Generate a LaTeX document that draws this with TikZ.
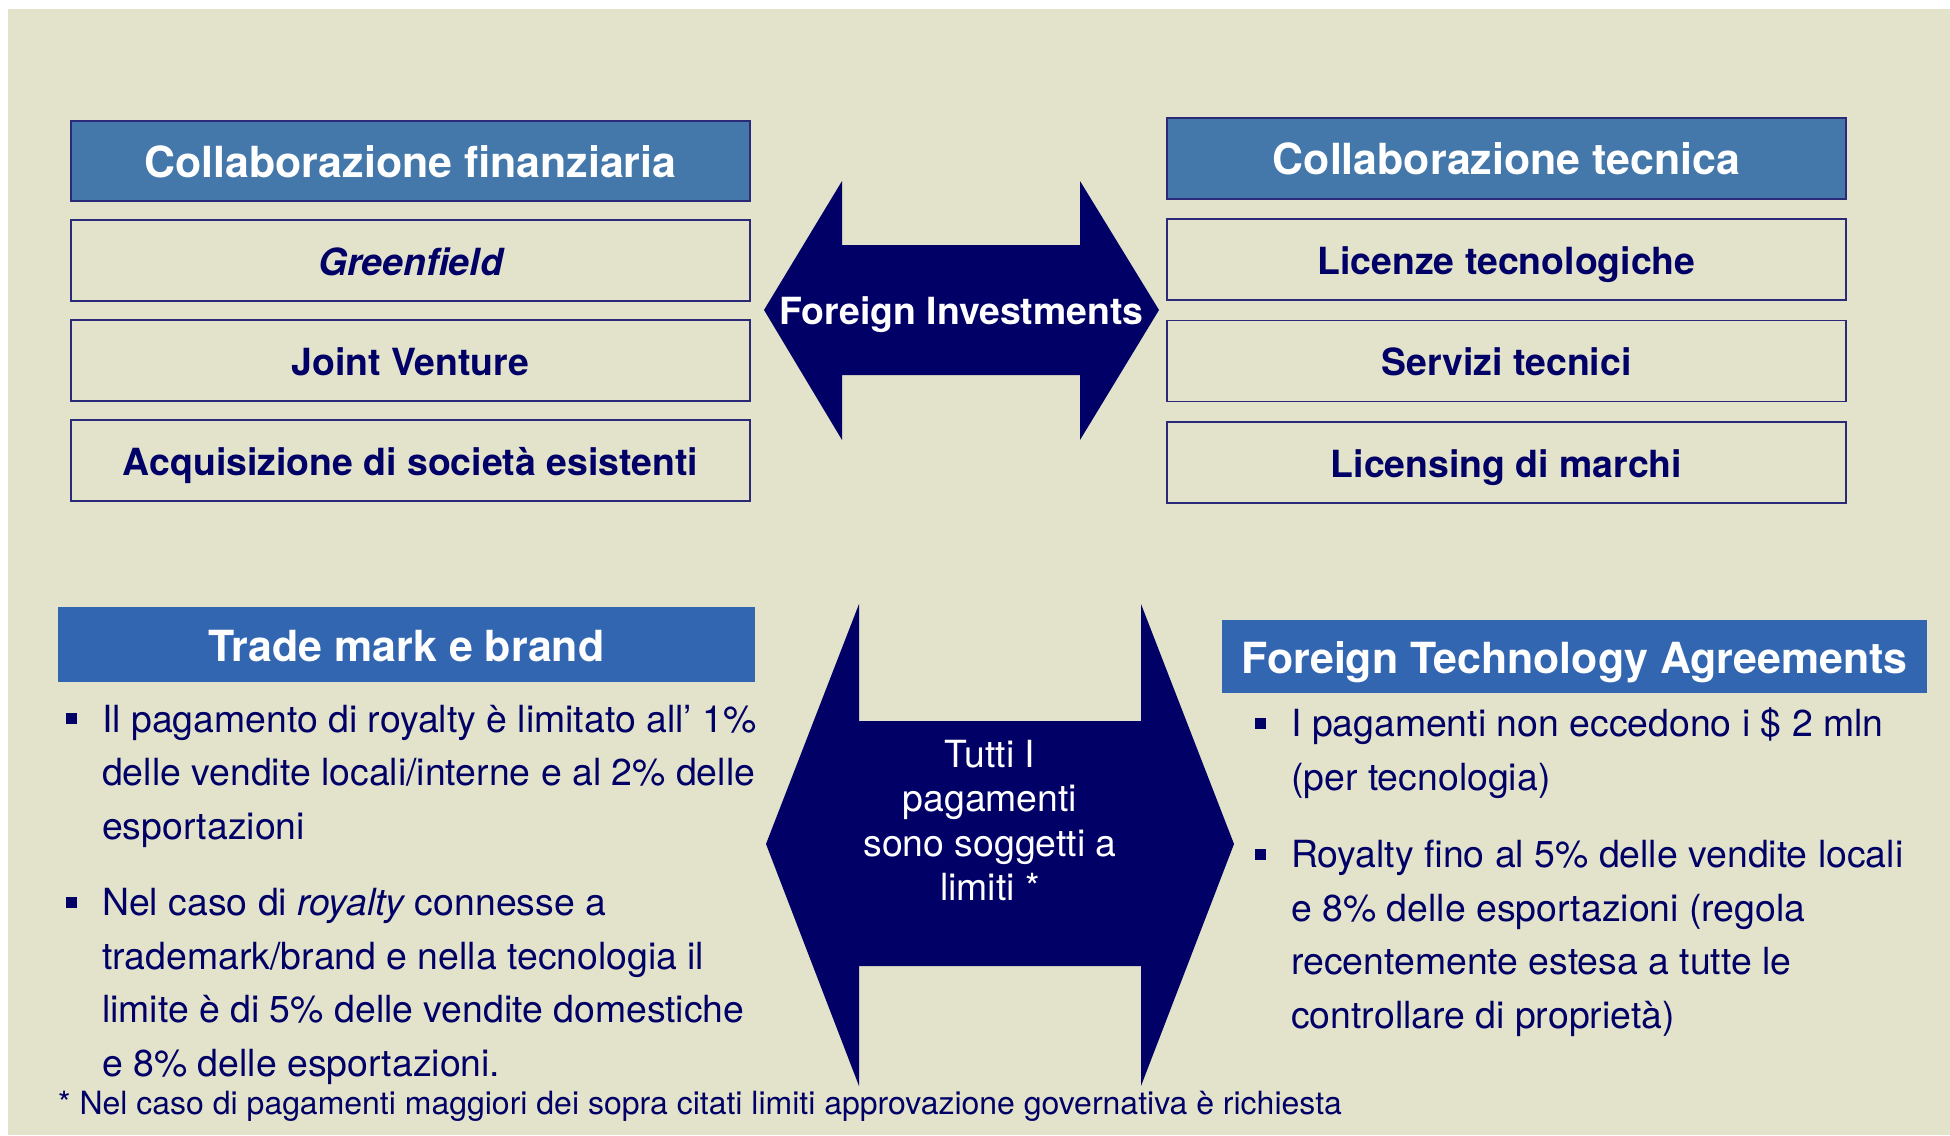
\documentclass[tikz,border=0pt]{standalone}
\usepackage{fontspec}
\setmainfont{TeX Gyre Heros}
\definecolor{bgcol}{HTML}{E3E3CB}
\definecolor{navy}{HTML}{000066}
\definecolor{hdrA}{HTML}{4477AA}
\definecolor{hdrB}{HTML}{3366B1}
\definecolor{boxline}{HTML}{2A2A78}
\newcommand\hdrfont{\fontsize{42.9pt}{50pt}\selectfont\bfseries}
\newcommand\boxfont{\fontsize{37.4pt}{44pt}\selectfont\bfseries}
\newcommand\bodyfont{\fontsize{37.4pt}{44pt}\selectfont}
\newcommand\notefont{\fontsize{32pt}{38pt}\selectfont}
\begin{document}
\begin{tikzpicture}[x=1pt,y=-1pt,
  hdrtop/.style={draw=boxline, line width=1.6pt, fill=hdrA, text=white, font=\hdrfont,
    inner sep=0pt, text height=32.5pt, text depth=0pt, minimum width=679pt},
  hdrbot/.style={fill=hdrB, text=white, font=\hdrfont,
    inner sep=0pt, text height=34pt, text depth=0pt},
  itembox/.style={draw=boxline, line width=1.6pt, text=navy, font=\boxfont,
    inner sep=0pt, text height=29pt, text depth=0pt, minimum width=679pt, minimum height=81pt},
  arrowfill/.style={fill=navy},
  bodytext/.style={text=navy, font=\bodyfont, inner sep=0pt},
  bulletsq/.style={fill=navy, inner sep=0pt, minimum size=11pt},
  notetext/.style={text=navy, font=\notefont, inner sep=0pt}
]
\useasboundingbox (0,0) rectangle (1950,1135);
\fill[white] (0,0) rectangle (1950,1135);
\fill[bgcol] (8,9) rectangle (1950,1135);

% top-left column
\node[hdrtop, minimum height=80pt] (cf) at (410.5,161) {Collaborazione finanziaria};
\node[itembox] (gf) at (410.5,260.5) {\itshape Greenfield};
\node[itembox] (jv) at (410.5,360.5) {Joint Venture};
\node[itembox] (acq) at (410.5,460.5) {Acquisizione di società esistenti};

% top-right column
\node[hdrtop, minimum height=81pt] (ct) at (1506.5,158.5) {Collaborazione tecnica};
\node[itembox] (lt) at (1506.5,259.5) {Licenze tecnologiche};
\node[itembox] (st) at (1506.5,361) {Servizi tecnici};
\node[itembox] (lm) at (1506.5,462.5) {Licensing di marchi};

% top double arrow
\fill[arrowfill] (764,310) -- (842,181) -- (842,245) -- (1080,245) -- (1080,181)
  -- (1159,310) -- (1080,440) -- (1080,375) -- (842,375) -- (842,440) -- cycle;
\node[text=white, font=\boxfont, inner sep=0pt, text height=29pt, text depth=0pt] (fi) at (961.5,310) {Foreign Investments};

% bottom double arrow
\fill[arrowfill] (766,844) -- (859,604) -- (859,721) -- (1141,721) -- (1141,604)
  -- (1234,844) -- (1141,1086) -- (1141,966) -- (859,966) -- (859,1086) -- cycle;
\node[text=white, font=\bodyfont, inner sep=0pt, anchor=base] (tp) at (990,767)
  {\vtop{\baselineskip=44.5pt\halign{\hfil#\hfil\cr Tutti I\cr pagamenti\cr sono soggetti a\cr limiti *\cr}}};

% bottom-left
\node[hdrbot, minimum width=697pt, minimum height=75pt] (tm) at (406.5,644.5) {Trade mark e brand};
\node[bulletsq] (bl1) at (71,718.5) {};
\node[bodytext, anchor=base west] (tl1) at (102,732)
  {\vtop{\baselineskip=53.7pt\hbox{Il pagamento di royalty è limitato all’ 1\%}\hbox{delle vendite locali/interne e al 2\% delle}\hbox{esportazioni}}};
\node[bulletsq] (bl2) at (71,902) {};
\node[bodytext, anchor=base west] (tl2) at (102,915.5)
  {\vtop{\baselineskip=53.7pt\hbox{Nel caso di \itshape royalty\upshape\ connesse a}\hbox{trademark/brand e nella tecnologia il}\hbox{limite è di 5\% delle vendite domestiche}\hbox{e 8\% delle esportazioni.}}};

% bottom-right
\node[hdrbot, minimum width=705pt, minimum height=72.5pt] (fta) at (1574.5,656.25) {Foreign Technology Agreements};
\node[bulletsq] (br1) at (1260,723) {};
\node[bodytext, anchor=base west] (tr1) at (1291,736.5)
  {\vtop{\baselineskip=53.5pt\hbox{I pagamenti non eccedono i \$ 2 mln}\hbox{(per tecnologia)}}};
\node[bulletsq] (br2) at (1260,854) {};
\node[bodytext, anchor=base west] (tr2) at (1291,867.5)
  {\vtop{\baselineskip=53.5pt\hbox{Royalty fino al 5\% delle vendite locali}\hbox{e 8\% delle esportazioni (regola}\hbox{recentemente estesa a tutte le}\hbox{controllare di proprietà)}}};

% footnote
\node[notetext, anchor=base west] (fn) at (58,1114)
  {* Nel caso di pagamenti maggiori dei sopra citati limiti approvazione governativa è richiesta};
\end{tikzpicture}
\end{document}
